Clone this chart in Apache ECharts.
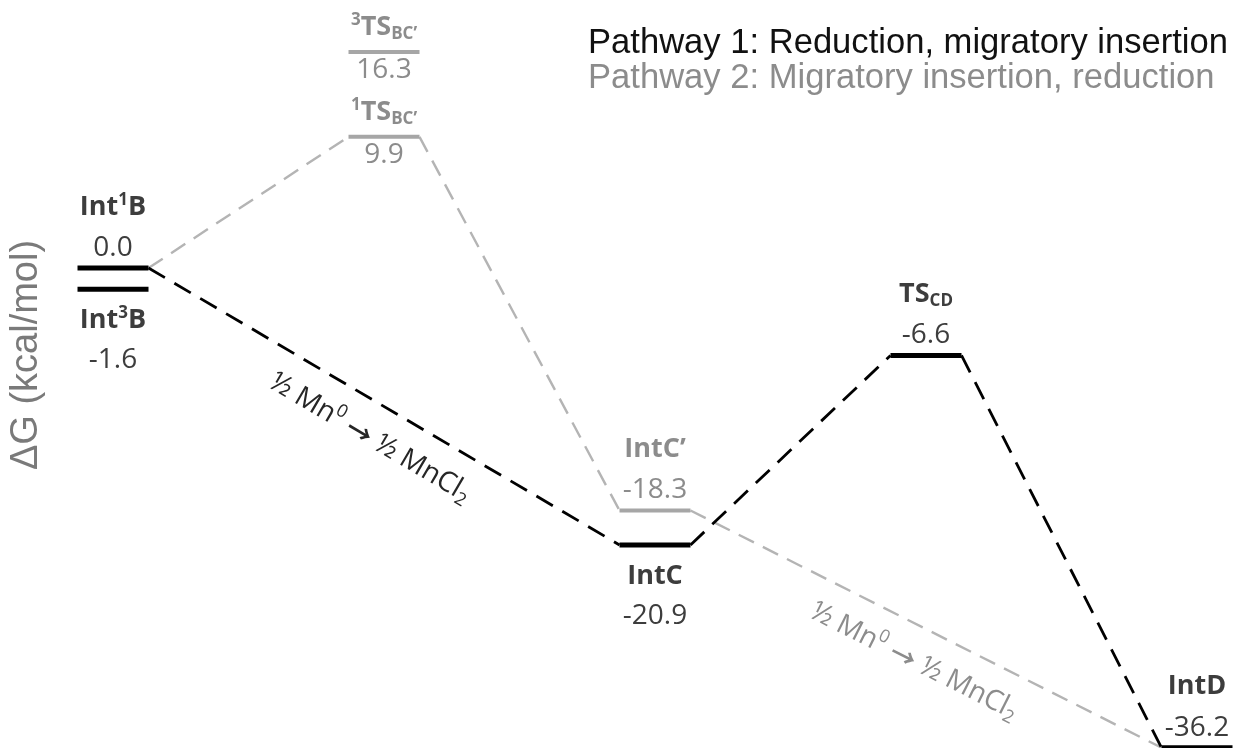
<!DOCTYPE html>
<html>
<head>
<meta charset="utf-8">
<title>Energy profile</title>
<script src="https://cdn.jsdelivr.net/npm/echarts@6/dist/echarts.min.js"></script>
<style>
  html, body { margin: 0; padding: 0; background: #ffffff; }
  #chart { width: 1237px; height: 748px; }
</style>
</head>
<body>
<div id="chart"></div>
<script>
// ---------- data ----------
// Stationary points: rich-text name, free energy (kcal/mol), reaction step, pathway
const levelNames = ['Int{sup|1}B', 'Int{sup|3}B', '{sup|3}TS{sub|BC’}', '{sup|1}TS{sub|BC’}', 'IntC’', 'IntC', 'TS{sub|CD}', 'IntD'];
const levelValues = [0.0, -1.6, 16.3, 9.9, -18.3, -20.9, -6.6, -36.2];
const levelSteps = [0, 0, 1, 1, 2, 2, 3, 4];
const levelPathways = [1, 1, 2, 2, 2, 1, 1, 1];

// Routes through the levels (indices into the arrays above)
const pathway1Route = [0, 5, 6, 7];
const pathway2Route = [0, 3, 4, 7];
const pathwayNames = ['Pathway 1: Reduction, migratory insertion', 'Pathway 2: Migratory insertion, reduction'];

// Reduction step written along two of the connectors
const reductionNote = '{t|½ Mn}{sup|0}{t| }{arr|→}{t| ½ MnCl}{sub|2}';
const notedSegments = [[0, 5], [4, 7]];

// ---------- layout & style ----------
const BAR_HALF = 0.131;            // half width of a level bar, in step units
const labelPlacement = ['above', 'below', 'split', 'split', 'above', 'below', 'above', 'above'];
const labelOffsets = {
  above: { name: -61, value: -20 },
  below: { name: 31, value: 71 },
  split: { name: -25, value: 18 }
};
const pathwayStyle = {
  1: { bar: '#000000', barWidth: 5, dash: '#000000', dashWidth: 2.8, text: '#3d3d3d', note: '#262626' },
  2: { bar: '#a6a6a6', barWidth: 4, dash: '#b4b4b4', dashWidth: 2.4, text: '#8c8c8c', note: '#8c8c8c' }
};
const LABEL_FONT = 'Open Sans';
const NAME_SIZE = 27, VALUE_SIZE = 28, SCRIPT_SIZE = 17;

function richFor(color) {
  return {
    sup: { fontFamily: LABEL_FONT, fontWeight: 'bold', fontSize: SCRIPT_SIZE, fill: color, verticalAlign: 'top', lineHeight: 18 },
    sub: { fontFamily: LABEL_FONT, fontWeight: 'bold', fontSize: SCRIPT_SIZE, fill: color, verticalAlign: 'bottom', lineHeight: 18 }
  };
}

function renderLevel(params, api) {
  const step = api.value(0);
  const v = api.value(1);
  const i = api.value(2);
  const st = pathwayStyle[levelPathways[i]];
  const left = api.coord([step - BAR_HALF, v]);
  const right = api.coord([step + BAR_HALF, v]);
  const y = left[1];
  const cx = (left[0] + right[0]) / 2;
  const off = labelOffsets[labelPlacement[i]];
  return {
    type: 'group',
    children: [
      {
        type: 'line',
        shape: { x1: left[0], y1: y, x2: right[0], y2: y },
        style: { stroke: st.bar, lineWidth: st.barWidth }
      },
      {
        type: 'text',
        x: cx, y: y + off.name,
        style: {
          text: levelNames[i],
          fill: st.text,
          fontFamily: LABEL_FONT, fontWeight: 'bold', fontSize: NAME_SIZE, lineHeight: 31,
          align: 'center', verticalAlign: 'middle',
          rich: richFor(st.text)
        }
      },
      {
        type: 'text',
        x: cx, y: y + off.value,
        style: {
          text: v.toFixed(1),
          fill: st.text,
          fontFamily: LABEL_FONT, fontSize: VALUE_SIZE,
          align: 'center', verticalAlign: 'middle'
        }
      }
    ]
  };
}

function segmentPathway(s) {
  return levelPathways[s[0]] === levelPathways[s[1]] ? levelPathways[s[0]] : 2;
}

function renderNote(params, api) {
  const from = api.value(0);
  const to = api.value(1);
  const st = pathwayStyle[segmentPathway([from, to])];
  const p0 = api.coord([levelSteps[from] + BAR_HALF, levelValues[from]]);
  const p1 = api.coord([levelSteps[to] - BAR_HALF, levelValues[to]]);
  const a = Math.atan2(p1[1] - p0[1], p1[0] - p0[0]);
  const mx = (p0[0] + p1[0]) / 2, my = (p0[1] + p1[1]) / 2;
  const along = 4, across = 34;
  const x = mx + Math.cos(a) * along - Math.sin(a) * across;
  const y = my + Math.sin(a) * along + Math.cos(a) * across;
  return {
    type: 'text',
    x: x, y: y,
    rotation: -a,
    style: {
      text: reductionNote,
      fill: st.note,
      align: 'center', verticalAlign: 'middle',
      rich: {
        t: { fontFamily: LABEL_FONT, fontSize: 28, fill: st.note, lineHeight: 34 },
        arr: { fontFamily: 'Noto Sans CJK JP', fontSize: 26, fontWeight: 'bold', fill: st.note, lineHeight: 34 },
        sup: { fontFamily: LABEL_FONT, fontSize: 18, fill: st.note, verticalAlign: 'top', lineHeight: 22 },
        sub: { fontFamily: LABEL_FONT, fontSize: 18, fill: st.note, verticalAlign: 'bottom', lineHeight: 22 }
      }
    }
  };
}

// ---------- series ----------
const series = [];

// dashed connectors between consecutive levels of each route
[pathway1Route, pathway2Route].forEach(function (route, r) {
  const st = pathwayStyle[r + 1];
  for (let k = 0; k < route.length - 1; k++) {
    const a = route[k], b = route[k + 1];
    series.push({
      type: 'line',
      name: pathwayNames[r],
      data: [[levelSteps[a] + BAR_HALF, levelValues[a]], [levelSteps[b] - BAR_HALF, levelValues[b]]],
      symbol: 'none',
      silent: true,
      clip: false,
      z: r === 0 ? 3 : 2,
      lineStyle: { color: st.dash, width: st.dashWidth, type: r === 0 ? [19, 11] : [17, 10] }
    });
  }
});

// level bars with their labels, one series per pathway
[1, 2].forEach(function (pw) {
  series.push({
    type: 'custom',
    name: pathwayNames[pw - 1],
    renderItem: renderLevel,
    clip: false,
    silent: true,
    z: 5,
    encode: { x: 0, y: 1 },
    data: levelValues
      .map(function (v, i) { return [levelSteps[i], v, i]; })
      .filter(function (d) { return levelPathways[d[2]] === pw; })
  });
});

// reduction notes along the connectors
[1, 2].forEach(function (pw) {
  series.push({
    type: 'custom',
    name: pathwayNames[pw - 1],
    renderItem: renderNote,
    clip: false,
    silent: true,
    z: 4,
    data: notedSegments.filter(function (s) { return segmentPathway(s) === pw; })
  });
});

const chart = echarts.init(document.getElementById('chart'), null, { renderer: 'canvas' });
chart.setOption({
  animation: false,
  backgroundColor: '#ffffff',
  grid: { left: 60, right: 0, top: 0, bottom: 0 },
  xAxis: {
    type: 'value',
    min: -0.1956,
    max: 4.1476,
    show: false
  },
  yAxis: {
    type: 'value',
    min: -36.226,
    max: 20.226,
    axisLine: { show: false },
    axisTick: { show: false },
    axisLabel: { show: false },
    splitLine: { show: false },
    name: 'ΔG (kcal/mol)',
    nameLocation: 'middle',
    nameRotate: 90,
    nameGap: 14,
    nameTextStyle: { color: '#7a7a7a', fontSize: 38, fontFamily: 'Liberation Sans', padding: [0, 0, 0, 38] }
  },
  legend: {
    orient: 'vertical',
    left: 578,
    top: 21,
    itemGap: 0,
    icon: 'none',
    itemWidth: 0,
    itemHeight: 0,
    selectedMode: false,
    textStyle: { fontFamily: 'Liberation Sans', fontSize: 34.6 },
    data: [
      { name: pathwayNames[0], textStyle: { color: '#111111' } },
      { name: pathwayNames[1], textStyle: { color: '#8c8c8c' } }
    ]
  },
  series: series
});
</script>
</body>
</html>
